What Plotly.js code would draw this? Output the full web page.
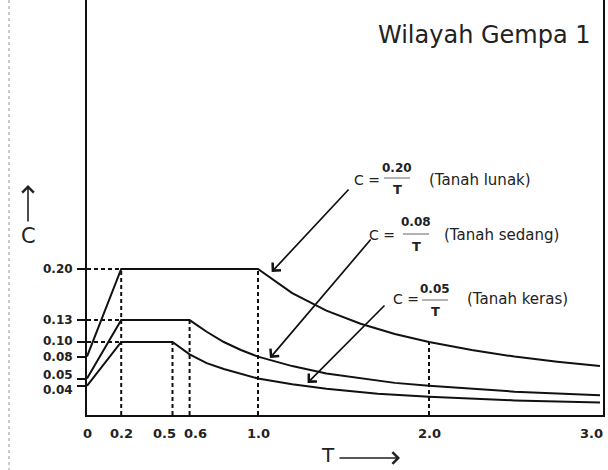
<!DOCTYPE html>
<html>
<head>
<meta charset="utf-8">
<script src="https://cdn.plot.ly/plotly-3.0.1.min.js"></script>
<style>
html,body{margin:0;padding:0;background:#fff;}
#chart{width:608px;height:470px;}
</style>
</head>
<body>
<div id="chart"></div>
<script>
// ---- data ----
const T_lunak  = [0, 0.2, 1.0, 1.2, 1.4, 1.6, 1.8, 2.0, 2.25, 2.5, 2.75, 3.0];
const C_lunak  = [0.08, 0.20, 0.20, 0.167, 0.143, 0.125, 0.111, 0.10, 0.089, 0.08, 0.073, 0.067];
const T_sedang = [0, 0.2, 0.6, 0.7, 0.8, 0.9, 1.0, 1.2, 1.4, 1.6, 1.8, 2.0, 2.5, 3.0];
const C_sedang = [0.05, 0.13, 0.13, 0.114, 0.10, 0.089, 0.08, 0.067, 0.057, 0.05, 0.044, 0.04, 0.032, 0.027];
const T_keras  = [0, 0.2, 0.5, 0.6, 0.7, 0.8, 1.0, 1.2, 1.4, 1.7, 2.0, 2.5, 3.0];
const C_keras  = [0.04, 0.10, 0.10, 0.083, 0.071, 0.063, 0.05, 0.042, 0.036, 0.029, 0.025, 0.02, 0.017];

const guideT = [0.2, 0.5, 0.6, 1.0, 2.0];      // vertical dashed guides
const guideC = [0.20, 0.10, 0.13, 0.20, 0.10];
const levelC = [0.20, 0.13, 0.10];             // horizontal dashed guides (to T = 0.2)
const levelT = 0.2;

const xTicks    = [0, 0.2, 0.5, 0.6, 1.0, 2.0, 3.0];
const xTickText = ['0', '0.2', '0.5', '0.6', '1.0', '2.0', '3.0'];
const yTicks    = [0.20, 0.13, 0.10, 0.08, 0.05, 0.04];
const yTickText = ['0.20', '0.13', '0.10', '0.08', '0.05', '0.04'];

const numerators = ['0.20', '0.08', '0.05'];
const soils = ['(Tanah lunak)', '(Tanah sedang)', '(Tanah keras)'];
const arrowTipT = [1.08, 1.07, 1.29];
const arrowTipC = [0.196, 0.078, 0.044];
const title = 'Wilayah Gempa 1';

// ---- layout / style (pixels) ----
const W = 608, H = 470;
const M = {l: 87, r: 5, t: 0, b: 55};
const pxPerT = 171, pxPerC = 730;
const xMax = (W - M.l - M.r) / pxPerT;
const yMax = (H - M.t - M.b) / pxPerC;
const dx = p => (p - M.l) / pxPerT;          // pixel -> data T
const dy = p => (H - M.b - p) / pxPerC;      // pixel -> data C
const px = p => (p - M.l) / (W - M.l - M.r); // pixel -> paper
const py = p => (H - M.b - p) / (H - M.t - M.b);

const xLabelShift  = [0, 0, -8, 6, 0, 0, 5];
const xLabelAnchor = ['center', 'center', 'center', 'center', 'center', 'center', 'right'];
const yLabelShift  = [0, 0, 1, 0, 4, -4];

const lineStyle = {color: '#111', width: 2};
const dashStyle = {color: '#111', width: 2, dash: '4px,3px'};
const FONT = 'DejaVu Sans, Verdana, sans-serif';
const TXT = '#222';

const gx = [], gy = [];
guideT.forEach((t, i) => { gx.push(t, t, null); gy.push(0, guideC[i], null); });
levelC.forEach(c => { gx.push(0, levelT, null); gy.push(c, c, null); });

const traces = [
  {x: gx, y: gy, mode: 'lines', line: dashStyle, hoverinfo: 'skip', showlegend: false},
  {x: T_lunak, y: C_lunak, mode: 'lines', line: lineStyle, name: 'Tanah lunak', showlegend: false},
  {x: T_sedang, y: C_sedang, mode: 'lines', line: lineStyle, name: 'Tanah sedang', showlegend: false},
  {x: T_keras, y: C_keras, mode: 'lines', line: lineStyle, name: 'Tanah keras', showlegend: false}
];

const ann = [];
const shapes = [];

// tick labels (placed on the axes' own scales)
xTicks.forEach((t, i) => ann.push({xref: 'x', yref: 'paper', x: t, y: 0, yshift: -18, xshift: xLabelShift[i],
  xanchor: xLabelAnchor[i], yanchor: 'middle', text: '<b>' + xTickText[i] + '</b>', showarrow: false,
  font: {family: FONT, size: 13, color: TXT}}));
yTicks.forEach((c, i) => ann.push({xref: 'paper', yref: 'y', x: px(75), y: c, yshift: yLabelShift[i],
  xanchor: 'right', yanchor: 'middle', text: '<b>' + yTickText[i] + '</b>', showarrow: false,
  font: {family: FONT, size: 12, color: TXT}}));

// formula labels
const groups = [
  {cx: 352, cy: 180, fx: 397, numY: 168, barY: 178, tY: 189, sx: 427, tailX: 350, tailY: 188},
  {cx: 367, cy: 235, fx: 416, numY: 222, barY: 234, tY: 246, sx: 442, tailX: 372, tailY: 238},
  {cx: 391, cy: 299, fx: 435, numY: 289, barY: 300, tY: 311, sx: 465, tailX: 386, tailY: 304}
];
groups.forEach((g, i) => {
  ann.push({xref: 'x', yref: 'y', x: dx(g.cx), y: dy(g.cy), xanchor: 'left', yanchor: 'middle',
    text: 'C =', showarrow: false, font: {family: FONT, size: 14, color: TXT}});
  ann.push({xref: 'x', yref: 'y', x: dx(g.fx), y: dy(g.numY), xanchor: 'center', yanchor: 'middle',
    text: '<b>' + numerators[i] + '</b>', showarrow: false, font: {family: FONT, size: 12, color: TXT}});
  ann.push({xref: 'x', yref: 'y', x: dx(g.fx), y: dy(g.tY), xanchor: 'center', yanchor: 'middle',
    text: '<b>T</b>', showarrow: false, font: {family: FONT, size: 13, color: TXT}});
  ann.push({xref: 'x', yref: 'y', x: dx(g.sx), y: dy(g.cy), xanchor: 'left', yanchor: 'middle',
    text: soils[i], showarrow: false, font: {family: FONT, size: 15, color: TXT}});
  shapes.push({type: 'line', xref: 'x', yref: 'y', x0: dx(g.fx - 13), x1: dx(g.fx + 13),
    y0: dy(g.barY), y1: dy(g.barY), line: {color: '#666', width: 1}});
  ann.push({xref: 'x', yref: 'y', axref: 'x', ayref: 'y', x: arrowTipT[i], y: arrowTipC[i],
    ax: dx(g.tailX), ay: dy(g.tailY), text: '', showarrow: true, arrowhead: 4, arrowsize: 1.3,
    arrowwidth: 1.7, arrowcolor: '#111', standoff: 0, startstandoff: 0});
});

// title-like label
ann.push({xref: 'paper', yref: 'paper', x: px(484), y: py(35), xanchor: 'center', yanchor: 'middle',
  text: title, showarrow: false, font: {family: FONT, size: 24, color: TXT}});
// axis labels with arrows
ann.push({xref: 'paper', yref: 'paper', x: px(28), y: py(236), xanchor: 'center', yanchor: 'middle',
  text: 'C', showarrow: false, font: {family: FONT, size: 21, color: TXT}});
ann.push({xref: 'paper', yref: 'paper', x: px(28), y: py(185), text: '', showarrow: true,
  ax: 0, ay: 38, arrowhead: 4, arrowsize: 1.4, arrowwidth: 1.6, arrowcolor: TXT, standoff: 0});
ann.push({xref: 'paper', yref: 'paper', x: px(328), y: py(455), xanchor: 'center', yanchor: 'middle',
  text: 'T', showarrow: false, font: {family: FONT, size: 20, color: TXT}});
ann.push({xref: 'paper', yref: 'paper', x: px(400), y: py(458), text: '', showarrow: true,
  ax: -62, ay: 0, arrowhead: 4, arrowsize: 1.4, arrowwidth: 1.6, arrowcolor: TXT, standoff: 0});

// faint scanned page edge on the left
shapes.push({type: 'line', xref: 'paper', yref: 'paper', x0: px(9), x1: px(9), y0: py(0), y1: py(470),
  line: {color: '#bbb', width: 1.5, dash: 'dot'}});

const layout = {
  width: W, height: H,
  margin: M,
  paper_bgcolor: '#fff', plot_bgcolor: '#fff',
  showlegend: false,
  font: {family: FONT, color: TXT},
  xaxis: {
    range: [0, xMax], showgrid: false, zeroline: false,
    showline: true, linecolor: '#111', linewidth: 2,
    tickmode: 'array', tickvals: xTicks, ticks: '', showticklabels: false
  },
  yaxis: {
    range: [0, yMax], showgrid: false, zeroline: false,
    showline: true, linecolor: '#111', linewidth: 2, mirror: true,
    tickmode: 'array', tickvals: yTicks, showticklabels: false,
    ticks: 'outside', ticklen: 8, tickwidth: 2, tickcolor: '#111'
  },
  annotations: ann,
  shapes: shapes
};

Plotly.newPlot('chart', traces, layout, {staticPlot: true, displayModeBar: false});
</script>
</body>
</html>
